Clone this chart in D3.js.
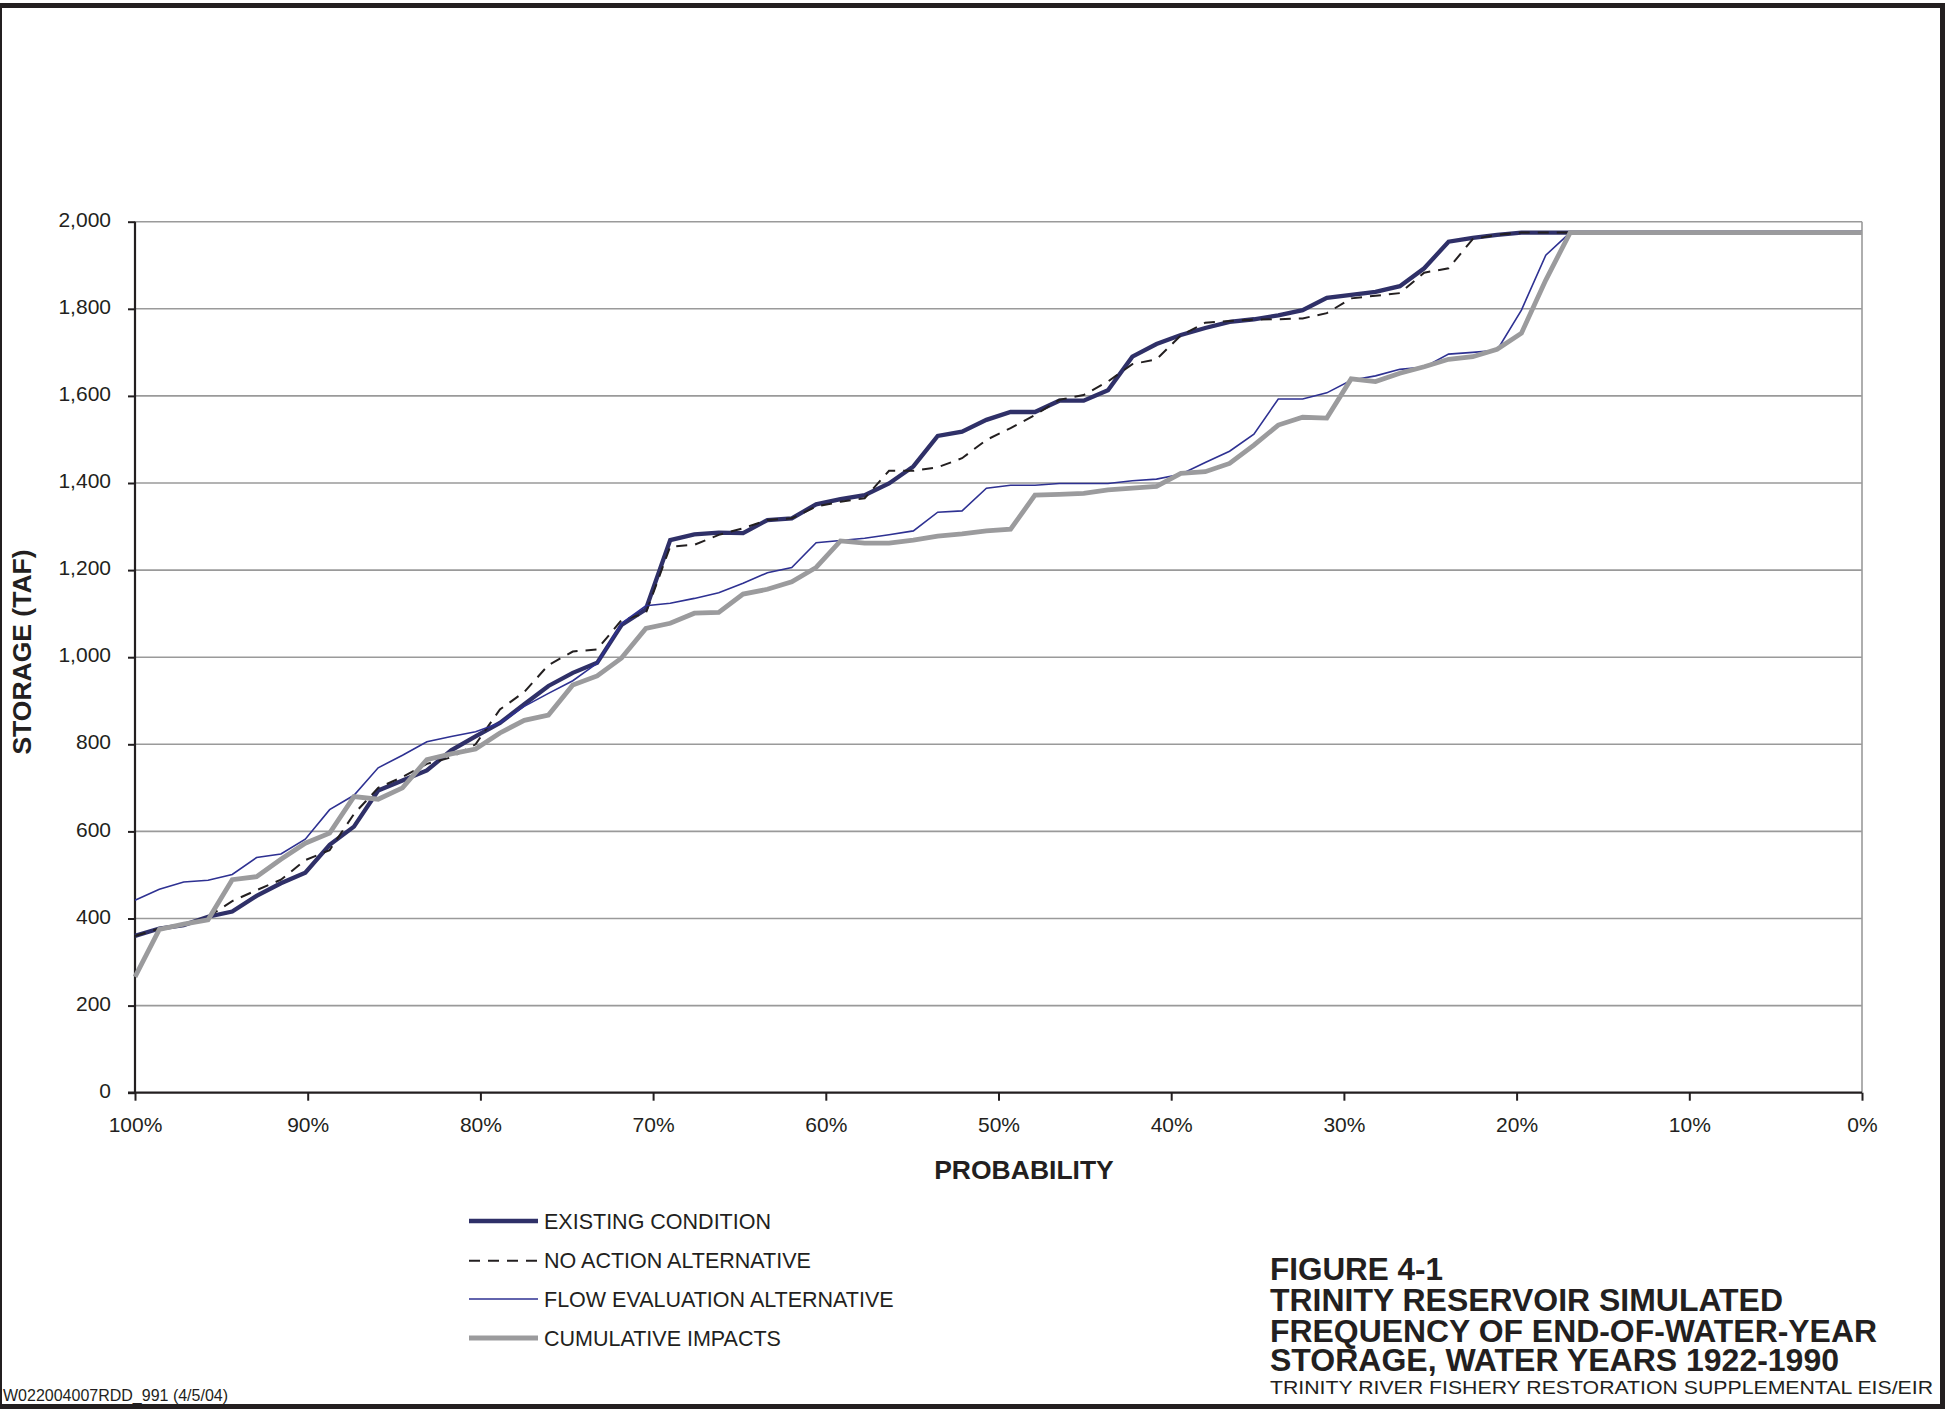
<!DOCTYPE html>
<html><head><meta charset="utf-8">
<script src="https://cdn.jsdelivr.net/npm/d3@7"></script>
<style>html,body{margin:0;padding:0;background:#fff;} svg{display:block;} text{font-family:"Liberation Sans",Arial,Helvetica,sans-serif;fill:#231f20;}</style>
</head><body>
<svg id="c" width="1958" height="1409"></svg>
<script>
// Exceedance probability (%) for each ranked year
const probability = [100,98.59,97.18,95.77,94.37,92.96,91.55,90.14,88.73,87.32,85.92,84.51,83.10,81.69,80.28,78.87,77.46,76.06,74.65,73.24,71.83,70.42,69.01,67.61,66.20,64.79,63.38,61.97,60.56,59.15,57.75,56.34,54.93,53.52,52.11,50.70,49.30,47.89,46.48,45.07,43.66,42.25,40.85,39.44,38.03,36.62,35.21,33.80,32.39,30.99,29.58,28.17,26.76,25.35,23.94,22.54,21.13,19.72,18.31,16.90,15.49,14.08,12.68,11.27,9.86,8.45,7.04,5.63,4.23,2.82,1.41,0];

const existingCondition = [360,377,385,404,416,452,481,505,569,611,694,717,740,786,818,849,892,934,964,987,1074,1110,1269,1282,1286,1285,1315,1319,1351,1363,1372,1399,1438,1508,1518,1545,1563,1563,1589,1589,1613,1690,1719,1740,1756,1770,1776,1785,1797,1825,1832,1839,1852,1893,1954,1963,1970,1975,1975,1975,1975,1975,1975,1975,1975,1975,1975,1975,1975,1975,1975,1975];

const noActionAlternative = [360,377,385,404,440,465,489,534,557,640,700,725,755,770,800,880,920,982,1013,1018,1085,1101,1254,1258,1281,1296,1315,1319,1346,1357,1365,1428,1428,1436,1457,1499,1526,1556,1591,1602,1633,1673,1684,1739,1768,1772,1775,1776,1778,1790,1824,1830,1836,1883,1893,1960,1970,1975,1975,1975,1975,1975,1975,1975,1975,1975,1975,1975,1975,1975,1975,1975];

const flowEvaluationAlternative = [442,467,484,488,501,540,548,582,650,683,746,775,806,818,829,849,887,917,946,986,1078,1118,1124,1135,1148,1170,1194,1206,1263,1268,1273,1281,1290,1333,1336,1388,1395,1395,1399,1399,1399,1405,1409,1420,1447,1473,1512,1593,1593,1607,1636,1646,1661,1666,1696,1700,1705,1797,1923,1975,1975,1975,1975,1975,1975,1975,1975,1975,1975,1975,1975,1975];

const cumulativeImpacts = [266,375,387,397,489,496,536,573,596,680,674,700,765,778,789,826,855,867,936,957,998,1066,1078,1101,1103,1145,1156,1173,1206,1267,1262,1262,1269,1278,1283,1290,1294,1372,1374,1376,1384,1388,1392,1422,1426,1445,1487,1533,1551,1549,1639,1633,1652,1667,1684,1690,1707,1744,1866,1975,1975,1975,1975,1975,1975,1975,1975,1975,1975,1975,1975,1975];

const yTicks = [0,200,400,600,800,1000,1200,1400,1600,1800,2000];
const xTicks = [100,90,80,70,60,50,40,30,20,10,0];

const seriesNames = ["EXISTING CONDITION","NO ACTION ALTERNATIVE","FLOW EVALUATION ALTERNATIVE","CUMULATIVE IMPACTS"];
const titleLines = ["FIGURE 4-1","TRINITY RESERVOIR SIMULATED","FREQUENCY OF END-OF-WATER-YEAR","STORAGE, WATER YEARS 1922-1990"];
const subtitle = "TRINITY RIVER FISHERY RESTORATION SUPPLEMENTAL EIS/EIR";
const footer = "W022004007RDD_991 (4/5/04)";

const svg = d3.select("#c");
const ink = "#231f20";

// page frame
svg.append("rect").attr("x",0).attr("y",3).attr("width",1945).attr("height",5).attr("fill",ink);
svg.append("rect").attr("x",0).attr("y",3).attr("width",2).attr("height",1406).attr("fill",ink);
svg.append("rect").attr("x",1940).attr("y",3).attr("width",5).attr("height",1406).attr("fill",ink);
svg.append("rect").attr("x",0).attr("y",1404).attr("width",1945).attr("height",5).attr("fill",ink);

const L = 135, R = 1862, T = 221.7, B = 1092.7;
const x = d3.scaleLinear().domain([100,0]).range([L,R]);
const y = d3.scaleLinear().domain([0,2000]).range([B,T]);

// grid
svg.append("g").selectAll("line").data(yTicks.filter(d=>d>0)).join("line")
  .attr("x1",L).attr("x2",R).attr("y1",d=>y(d)).attr("y2",d=>y(d))
  .attr("stroke","#9a9a9a").attr("stroke-width",1.6);
svg.append("line").attr("x1",R).attr("x2",R).attr("y1",T).attr("y2",B).attr("stroke","#9a9a9a").attr("stroke-width",1.6);

// axes
const yAxis = d3.axisLeft(y).tickValues(yTicks).tickSize(7).tickPadding(17).tickFormat(d3.format(","));
const gy = svg.append("g").attr("transform",`translate(${L},0)`).call(yAxis);
gy.select(".domain").remove();
gy.selectAll(".tick line").attr("stroke",ink).attr("stroke-width",2);
gy.selectAll(".tick text").attr("font-size",21).attr("font-family","Liberation Sans, Arial, sans-serif").attr("fill",ink).attr("dy","0.22em");
svg.append("line").attr("x1",L).attr("x2",L).attr("y1",T).attr("y2",B+1).attr("stroke",ink).attr("stroke-width",2.2);

const xAxis = d3.axisBottom(x).tickValues(xTicks).tickSize(8).tickPadding(16).tickFormat(d=>d+"%");
const gx = svg.append("g").attr("transform",`translate(0,${B})`).call(xAxis);
gx.select(".domain").remove();
gx.selectAll(".tick line").attr("stroke",ink).attr("stroke-width",2);
gx.selectAll(".tick text").attr("font-size",21).attr("font-family","Liberation Sans, Arial, sans-serif").attr("fill",ink);
svg.append("line").attr("x1",L-7).attr("x2",R).attr("y1",B).attr("y2",B).attr("stroke",ink).attr("stroke-width",2.2);

// axis titles
svg.append("text").attr("x",1024).attr("y",1179).attr("text-anchor","middle")
  .attr("font-weight","bold").attr("font-size",26.5).text("PROBABILITY");
svg.append("text").attr("transform","translate(31,652) rotate(-90)").attr("text-anchor","middle")
  .attr("font-weight","bold").attr("font-size",26.5).text("STORAGE (TAF)");

// series
const styles = [
  {data:existingCondition, color:"#2f3068", width:4.3, dash:null},
  {data:noActionAlternative, color:ink, width:2, dash:"11,8"},
  {data:flowEvaluationAlternative, color:"#2e3192", width:1.6, dash:null},
  {data:cumulativeImpacts, color:"#9b9b9d", width:4.8, dash:null}
];
const line = d3.line().x((d,i)=>x(probability[i])).y(d=>y(d));
styles.forEach(s=>{
  svg.append("path").datum(s.data).attr("d",line).attr("fill","none")
    .attr("stroke",s.color).attr("stroke-width",s.width).attr("stroke-linejoin","miter")
    .attr("stroke-dasharray",s.dash);
});

// legend
const legY = [1221,1260.7,1299,1338];
styles.forEach((s,i)=>{
  svg.append("line").attr("x1",469).attr("x2",538).attr("y1",legY[i]).attr("y2",legY[i])
    .attr("stroke",s.color).attr("stroke-width",s.width).attr("stroke-dasharray",s.dash);
  svg.append("text").attr("x",544).attr("y",legY[i]+7.5).attr("font-size",21.5).text(seriesNames[i]);
});

// title block
const tBase = [1280,1311,1342,1371];
const tWidth = [173,513,607,569];
titleLines.forEach((t,i)=>{
  svg.append("text").attr("x",1270).attr("y",tBase[i]).attr("font-size",32)
    .attr("font-weight","bold").attr("textLength",tWidth[i]).attr("lengthAdjust","spacingAndGlyphs").text(t);
});
svg.append("text").attr("x",1270).attr("y",1394).attr("font-size",19)
  .attr("textLength",663).attr("lengthAdjust","spacingAndGlyphs").text(subtitle);

svg.append("text").attr("x",3).attr("y",1401).attr("font-size",16).text(footer);
</script>
</body></html>
